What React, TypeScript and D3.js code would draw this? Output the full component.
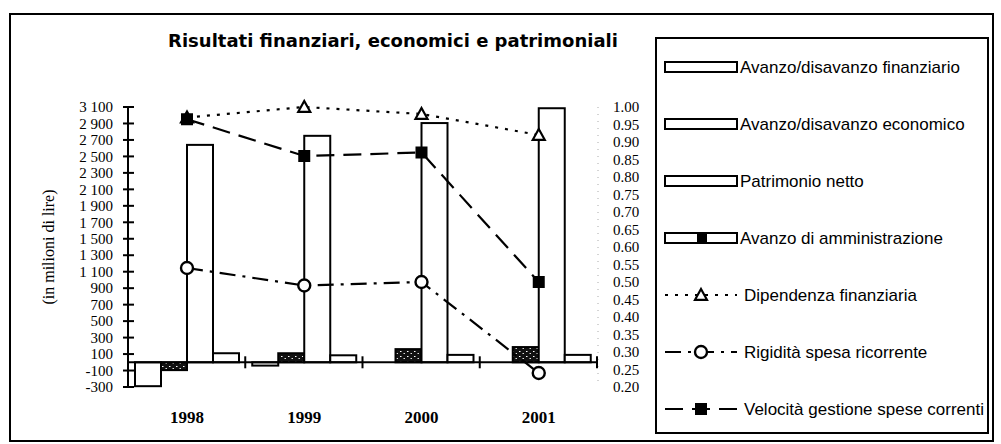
import React from 'react';
import * as d3 from 'd3';

// --- dati (in milioni di lire / indici) ---
const years = ['1998', '1999', '2000', '2001'];
const finanziario = [-290, -40, 0, 0];
const economico = [-95, 110, 160, 185];
const patrimonio = [2640, 2750, 2905, 3085];
const amministrazione = [110, 85, 90, 90];
const dipendenza = [0.97, 1.0, 0.98, 0.92];
const rigidita = [0.54, 0.49, 0.5, 0.24];
const velocita = [0.965, 0.86, 0.87, 0.5];

const leftTicks = [-300, -100, 100, 300, 500, 700, 900, 1100, 1300, 1500, 1700, 1900, 2100, 2300, 2500, 2700, 2900, 3100];
const rightTicks = [0.2, 0.25, 0.3, 0.35, 0.4, 0.45, 0.5, 0.55, 0.6, 0.65, 0.7, 0.75, 0.8, 0.85, 0.9, 0.95, 1.0];

const barSeries = [
  { key: 'fin', label: 'Avanzo/disavanzo finanziario', values: finanziario },
  { key: 'eco', label: 'Avanzo/disavanzo economico', values: economico },
  { key: 'pat', label: 'Patrimonio netto', values: patrimonio },
  { key: 'amm', label: 'Avanzo di amministrazione', values: amministrazione },
];
const lineSeries = [
  { key: 'dip', label: 'Dipendenza finanziaria', values: dipendenza, dash: '3,7', marker: 'triangle' },
  { key: 'rig', label: 'Rigidità spesa ricorrente', values: rigidita, dash: '16,7,3,7', marker: 'circle' },
  { key: 'vel', label: 'Velocità gestione spese correnti', values: velocita, dash: '18,9', marker: 'square' },
];

const SERIF = '"Liberation Serif", "Times New Roman", serif';
const SANS = '"Liberation Sans", Arial, sans-serif';

const fmtLeft = (v: number) => {
  const a = Math.abs(v);
  const s = a >= 1000 ? `${Math.floor(a / 1000)} ${String(a % 1000).padStart(3, '0')}` : String(a);
  return v < 0 ? `-${s}` : s;
};

const Marker = ({ type, x, y }: { type: string; x: number; y: number }) => {
  if (type === 'triangle') {
    const s = 6;
    return <path d={`M${x},${y - s} L${x + s},${y + s * 0.8} L${x - s},${y + s * 0.8} Z`} fill="#fff" stroke="#000" strokeWidth={2.2} />;
  }
  if (type === 'circle') return <circle cx={x} cy={y} r={6} fill="#fff" stroke="#000" strokeWidth={2.4} />;
  return <rect x={x - 6} y={y - 6} width={12} height={12} fill="#000" />;
};

export default function App() {
  const width = 1001, height = 444;
  const plot = { left: 128, right: 597, top: 107, bottom: 387 };

  const x = d3.scaleBand().domain(years).range([plot.left, plot.right]).paddingInner(0).paddingOuter(0);
  const xs = d3.scaleBand().domain(barSeries.map(s => s.key)).range([7, 111]);
  const yL = d3.scaleLinear().domain([-300, 3100]).range([plot.bottom, plot.top]);
  const yR = d3.scaleLinear().domain([0.2, 1.0]).range([plot.bottom, plot.top]);
  const cx = (yr: string) => (x(yr) as number) + xs('pat')!;

  const fillFor = (k: string) => (k === 'eco' ? 'url(#speckle)' : '#fff');

  const legendY = (i: number) => 67 + i * 57;
  const lx0 = 665, lx1 = 737;

  return (
    <svg width={width} height={height} style={{ position: 'absolute', left: 0, top: 0, background: '#fff' }}>
      <defs>
        <pattern id="speckle" width="7" height="5" patternUnits="userSpaceOnUse">
          <rect width="7" height="5" fill="#111" />
          <rect x="1" y="1" width="1.5" height="1" fill="#fff" />
          <rect x="4.5" y="3" width="1.5" height="1" fill="#ddd" />
        </pattern>
      </defs>

      {/* cornice esterna */}
      <rect x={10} y={14} width={983} height={427} fill="none" stroke="#000" strokeWidth={2} />

      <text x={393} y={47} textAnchor="middle" fontFamily='"DejaVu Sans", sans-serif' fontWeight="bold" fontSize={18}>
        Risultati finanziari, economici e patrimoniali
      </text>

      {/* barre */}
      {barSeries.map(s => (
        <g key={s.key}>
          {years.map((yr, i) => {
            const v = s.values[i];
            const y0 = yL(Math.max(0, v)), y1 = yL(Math.min(0, v));
            return (
              <rect key={yr} x={(x(yr) as number) + xs(s.key)!} y={y0} width={xs.bandwidth()}
                height={y1 - y0} fill={fillFor(s.key)} stroke="#000" strokeWidth={2} />
            );
          })}
        </g>
      ))}

      {/* assi */}
      <line x1={plot.left} x2={plot.left} y1={plot.top} y2={plot.bottom} stroke="#000" strokeWidth={2} />
      <line x1={plot.left} x2={plot.right} y1={yL(0)} y2={yL(0)} stroke="#000" strokeWidth={2} />
      <line x1={plot.right + 1} x2={plot.right + 1} y1={plot.top} y2={plot.bottom} stroke="#aaa" strokeWidth={1} strokeDasharray="1,6" />
      {leftTicks.map(t => (
        <g key={t} transform={`translate(0,${yL(t)})`}>
          <line x1={plot.left - 5} x2={plot.left + 6} stroke="#000" strokeWidth={2} />
          <text x={113} dy="0.35em" textAnchor="end" fontFamily={SERIF} fontSize={15}>{fmtLeft(t)}</text>
        </g>
      ))}
      {rightTicks.map(t => (
        <text key={t} x={613} y={yR(t)} dy="0.35em" fontFamily={SERIF} fontSize={15}>{t.toFixed(2)}</text>
      ))}
      {years.map(yr => (
        <g key={yr}>
          <line x1={(x(yr) as number) + x.bandwidth()} x2={(x(yr) as number) + x.bandwidth()}
            y1={yL(0) - 6} y2={yL(0) + 6} stroke="#000" strokeWidth={2} />
          <text x={cx(yr)} y={423} textAnchor="middle" fontFamily={SERIF} fontWeight="bold" fontSize={17}>{yr}</text>
        </g>
      ))}
      <text transform={`translate(54,${(plot.top + plot.bottom) / 2}) rotate(-90)`} textAnchor="middle"
        fontFamily={SERIF} fontSize={16}>(in milioni di lire)</text>

      {/* linee */}
      {lineSeries.map(s => {
        const line = d3.line<number>().x((_, i) => cx(years[i])).y(v => yR(v));
        return (
          <g key={s.key}>
            <path d={line(s.values) || ''} fill="none" stroke="#000" strokeWidth={2.2} strokeDasharray={s.dash} />
            {s.values.map((v, i) => <Marker key={i} type={s.marker} x={cx(years[i])} y={yR(v)} />)}
          </g>
        );
      })}

      {/* legenda */}
      <rect x={656} y={38} width={332} height={395} fill="#fff" stroke="#000" strokeWidth={2} />
      {barSeries.map((s, i) => (
        <g key={s.key} transform={`translate(0,${legendY(i)})`}>
          <rect x={lx0} y={-5} width={lx1 - lx0} height={10} fill="#fff" stroke="#000" strokeWidth={2} />
          {s.key === 'amm' && <rect x={697} y={-5} width={10} height={10} fill="#000" />}
          <text x={740} y={6} fontFamily={SANS} fontSize={17}>{s.label}</text>
        </g>
      ))}
      {lineSeries.map((s, j) => {
        const i = j + barSeries.length;
        return (
          <g key={s.key} transform={`translate(0,${legendY(i)})`}>
            <line x1={lx0} x2={lx1} y1={0} y2={0} stroke="#000" strokeWidth={2.2} strokeDasharray={s.dash} />
            <Marker type={s.marker} x={(lx0 + lx1) / 2} y={0} />
            <text x={744} y={6} fontFamily={SANS} fontSize={17}>{s.label}</text>
          </g>
        );
      })}
    </svg>
  );
}
